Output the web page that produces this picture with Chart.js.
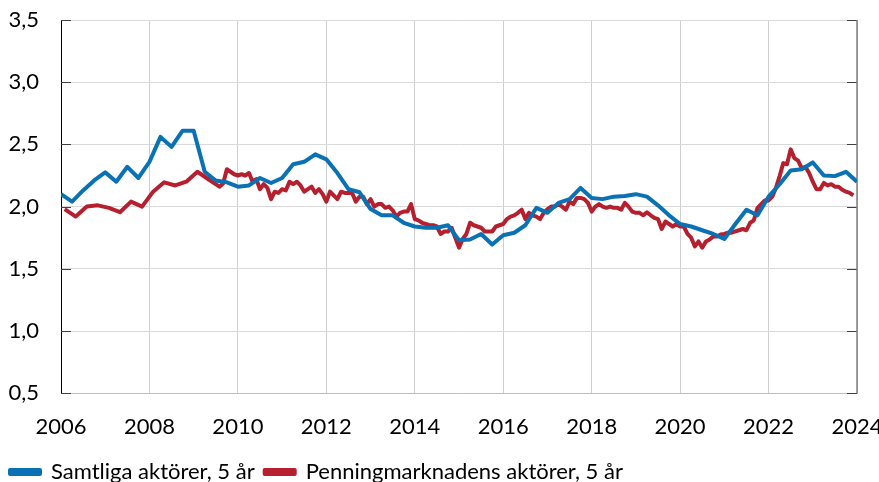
<!DOCTYPE html>
<html>
<head>
<meta charset="utf-8">
<script src="https://cdn.jsdelivr.net/npm/chart.js@4.4.1/dist/chart.umd.min.js"></script>
<style>
  html, body { margin: 0; padding: 0; background: #fff; overflow: hidden; }
  #wrap { position: relative; width: 879px; height: 493px; }
</style>
</head>
<body>
<div id="wrap"><canvas id="chart"></canvas></div>
<script>
const seriesNames = ['Samtliga aktörer, 5 år', 'Penningmarknadens aktörer, 5 år'];
const yearTicks = [2006, 2008, 2010, 2012, 2014, 2016, 2018, 2020, 2022, 2024];
const valueTicks = [0.5, 1.0, 1.5, 2.0, 2.5, 3.0, 3.5];

// Samtliga aktörer: kvartal, 2006 K1 - 2024 K1
const samtligaStart = '2006-01';
const samtliga = [
  2.10, 2.04, 2.13, 2.21,
  2.275, 2.20, 2.32, 2.23,
  2.36, 2.56, 2.48, 2.61,
  2.61, 2.28, 2.21, 2.195,
  2.16, 2.17, 2.23, 2.19,
  2.23, 2.34, 2.36, 2.42,
  2.38, 2.27, 2.14, 2.115,
  1.98, 1.93, 1.93, 1.87,
  1.84, 1.83, 1.83, 1.85,
  1.73, 1.735, 1.78, 1.695,
  1.77, 1.79, 1.85, 1.99,
  1.95, 2.03, 2.06, 2.15,
  2.07, 2.06, 2.08, 2.085,
  2.10, 2.08, 2.01, 1.93,
  1.86, 1.84, 1.81, 1.78,
  1.74, 1.86, 1.975, 1.93,
  2.08, 2.18, 2.29, 2.30,
  2.355, 2.25, 2.245, 2.28,
  2.20
];

// Penningmarknadens aktörer: kvartal till 2009, sedan månad
const penningKvartalStart = '2006-02';
const penningKvartal = [
  1.98, 1.92, 2.00, 2.01,
  1.99, 1.955, 2.04, 2.00,
  2.12, 2.195, 2.17, 2.20,
  2.28, 2.22, 2.16
];
const penningManadStart = '2009-09';
const penningManad = [
  2.185, 2.30, 2.28, 2.26,
  2.25, 2.26, 2.25, 2.27, 2.20, 2.22, 2.14, 2.18, 2.15, 2.06, 2.12, 2.11,
  2.14, 2.13, 2.20, 2.18, 2.20, 2.17, 2.12, 2.14, 2.16, 2.11, 2.14, 2.10,
  2.04, 2.12, 2.09, 2.06, 2.12, 2.11, 2.11, 2.11, 2.04, 2.08, 2.08, 2.02,
  2.06, 2.00, 2.02, 2.02, 1.99, 2.00, 1.97, 1.92, 1.95, 1.96, 1.96, 2.02,
  1.90, 1.89, 1.87, 1.86, 1.85, 1.85, 1.84, 1.78, 1.80, 1.80, 1.83, 1.75,
  1.67, 1.74, 1.78, 1.87, 1.85, 1.84, 1.83, 1.80, 1.80, 1.80, 1.84, 1.85,
  1.86, 1.90, 1.92, 1.93, 1.95, 1.975, 1.90, 1.95, 1.93, 1.92, 1.90, 1.95,
  1.98, 2.00, 2.00, 2.02, 2.00, 1.975, 2.04, 2.02, 2.07, 2.07, 2.06, 2.03,
  1.96, 2.00, 2.02, 2.00, 1.99, 2.00, 1.99, 1.99, 1.975, 2.03, 2.00, 1.96,
  1.95, 1.95, 1.93, 1.955, 1.93, 1.91, 1.90, 1.82, 1.88, 1.86, 1.84, 1.86,
  1.84, 1.84, 1.78, 1.75, 1.68, 1.72, 1.67, 1.72, 1.735, 1.76, 1.76, 1.775,
  1.78, 1.79, 1.79, 1.80, 1.81, 1.82, 1.81, 1.87, 1.89, 1.99, 2.02, 2.05,
  2.05, 2.08, 2.15, 2.245, 2.35, 2.34, 2.46, 2.39, 2.37, 2.31, 2.32, 2.27,
  2.20, 2.14, 2.14, 2.19, 2.17, 2.18, 2.16, 2.16, 2.135, 2.12, 2.11, 2.09
];

const BLUE = '#0a71b5';
const RED = '#b51f2e';
const FONT = 'Lato, "Noto Sans", sans-serif';

// 'YYYY-MM' -> decimal year, then step by months
function toPoints(start, stepMonths, values) {
  const [y0, m0] = start.split('-').map(Number);
  return values.map((v, i) => {
    const m = (m0 - 1) + i * stepMonths;
    return { x: y0 + m / 12, y: v };
  });
}

const bluePoints = toPoints(samtligaStart, 3, samtliga);
const redPoints = toPoints(penningKvartalStart, 3, penningKvartal)
  .concat(toPoints(penningManadStart, 1, penningManad));

// inner tick marks on both sides + right frame
const axisMarks = {
  id: 'axisMarks',
  beforeDatasetsDraw(chart) {
    const { ctx, chartArea: a, scales: { y } } = chart;
    ctx.save();
    ctx.lineWidth = 1;
    ctx.strokeStyle = '#404040';
    y.ticks.forEach(t => {
      const py = Math.round(y.getPixelForValue(t.value)) + 0.5;
      ctx.beginPath();
      ctx.moveTo(a.left, py);
      ctx.lineTo(a.left + 10, py);
      ctx.moveTo(a.right - 10, py);
      ctx.lineTo(a.right, py);
      ctx.stroke();
    });
    ctx.strokeStyle = '#7f7f7f';
    ctx.lineWidth = 1.5;
    ctx.beginPath();
    ctx.moveTo(a.right, a.top);
    ctx.lineTo(a.right, a.bottom);
    ctx.stroke();
    ctx.restore();
  }
};

new Chart(document.getElementById('chart'), {
  type: 'line',
  data: {
    datasets: [
      {
        label: seriesNames[0],
        data: bluePoints,
        borderColor: BLUE,
        backgroundColor: BLUE,
        borderWidth: 4,
        pointRadius: 0,
        tension: 0,
        borderJoinStyle: 'round',
      },
      {
        label: seriesNames[1],
        data: redPoints,
        borderColor: RED,
        backgroundColor: RED,
        borderWidth: 4,
        pointRadius: 0,
        tension: 0,
        borderJoinStyle: 'round',
      },
    ],
  },
  options: {
    responsive: true,
    maintainAspectRatio: false,
    animation: false,
    layout: { padding: { top: 20, right: 22, left: 0, bottom: 0 } },
    plugins: {
      tooltip: { enabled: false },
      legend: {
        position: 'bottom',
        align: 'start',
        labels: {
          color: '#000',
          font: { family: FONT, size: 22 },
          boxWidth: 30,
          boxHeight: 4,
          padding: 10,
        },
      },
    },
    scales: {
      x: {
        type: 'linear',
        min: 2006,
        max: 2024,
        afterBuildTicks: (s) => { s.ticks = yearTicks.map(v => ({ value: v })); },
        afterFit: (s) => { s.height = 57.8; s.paddingLeft = 0; s.paddingRight = 0; },
        ticks: {
          color: '#000',
          font: { family: FONT, size: 22 },
          padding: 21,
          maxRotation: 0,
          callback: (v) => String(v),
        },
        grid: { color: '#cfcfcf', drawTicks: false },
        border: { color: '#bfbfbf' },
      },
      y: {
        min: 0.5,
        max: 3.5,
        afterBuildTicks: (s) => { s.ticks = valueTicks.map(v => ({ value: v })); },
        afterFit: (s) => { s.width = 61; s.paddingTop = 0; s.paddingBottom = 0; },
        ticks: {
          color: '#000',
          font: { family: FONT, size: 22 },
          padding: 22,
          callback: (v) => v.toFixed(1).replace('.', ','),
        },
        grid: { color: '#d9d9d9', drawTicks: false },
        border: { color: '#000', width: 1 },
      },
    },
  },
  plugins: [axisMarks],
});
</script>
</body>
</html>
